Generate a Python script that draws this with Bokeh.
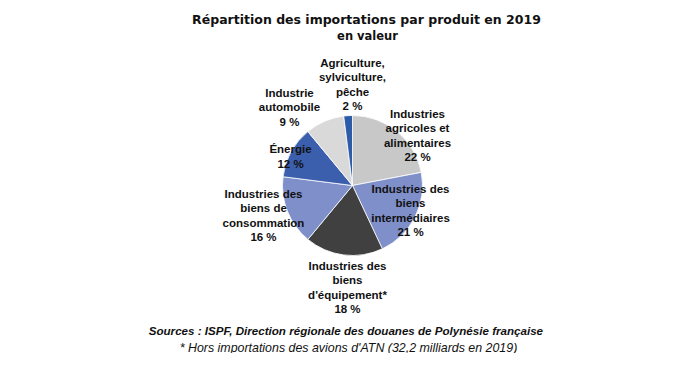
import math
from bokeh.plotting import figure
from bokeh.models import ColumnDataSource
from bokeh.core.properties import value
from bokeh.embed import file_html
from bokeh.resources import INLINE

# ---- data ----
names = [
    "Industries\nagricoles et\nalimentaires",
    "Industries des\nbiens\nintermédiaires",
    "Industries des\nbiens\nd'équipement*",
    "Industries des\nbiens de\nconsommation",
    "Énergie",
    "Industrie\nautomobile",
    "Agriculture,\nsylviculture,\npêche",
]
values = [22, 21, 18, 16, 12, 9, 2]
colors = ["#c8c8c8", "#7f8fca", "#404040", "#7f8fca", "#3b5ead", "#d9d9d9", "#2e5ba8"]
title_text = "Répartition des importations par produit en 2019"
subtitle_text = "en valeur"
source_text = "Sources : ISPF, Direction régionale des douanes de  Polynésie française"
note_text = "* Hors importations des avions d'ATN (32,2 milliards en 2019)"

W, H = 662, 353
FONT = "Liberation Sans"

# pixel layout (top-left origin) -> data
def Y(py):
    return H - py

cx, cy, r = 352, Y(185), 70

total = sum(values)
starts, ends = [], []
cum = 0.0
for v in values:
    a0 = math.pi / 2 - 2 * math.pi * cum / total
    cum += v
    a1 = math.pi / 2 - 2 * math.pi * cum / total
    starts.append(a1)
    ends.append(a0)

src = ColumnDataSource(dict(start=starts, end=ends, color=colors))

p = figure(width=W, height=H, x_range=(0, W), y_range=(0, H),
           output_backend="svg", toolbar_location=None, min_border=0)
p.axis.visible = False
p.grid.visible = False
p.outline_line_color = None
p.background_fill_color = "white"

p.wedge(x=cx, y=cy, radius=r, radius_units="screen", start_angle="start",
        end_angle="end", direction="anticlock", fill_color="color",
        line_color="white", line_width=0.8, source=src)

# label positions (pixel coords, centre of block)
label_pos = [(417, 135), (410, 210), (347, 287), (263, 215), (290, 156), (289, 107), (352, 84)]
lx = [pp[0] for pp in label_pos]
ly = [Y(pp[1]) for pp in label_pos]
ltxt = [f"{n}\n{v} %" for n, v in zip(names, values)]
p.text(x=lx, y=ly, text=ltxt, text_font=value(FONT), text_font_style="bold",
       text_font_size="11.5px", text_align="center", text_baseline="middle",
       text_line_height=1.22, text_color="#111111")

p.text(x=[366], y=[Y(19)], text=[title_text], text_font=value("DejaVu Sans"),
       text_font_style="bold", text_font_size="12.5px", text_align="center",
       text_baseline="middle", text_color="#111111")
p.text(x=[367], y=[Y(35)], text=[subtitle_text], text_font=value("DejaVu Sans"),
       text_font_style="bold", text_font_size="11.5px", text_align="center",
       text_baseline="middle", text_color="#111111")
p.text(x=[347], y=[Y(330)], text=[source_text], text_font=value(FONT),
       text_font_style="bold italic", text_font_size="11.6px", text_align="center",
       text_baseline="middle", text_color="#111111")
p.text(x=[348], y=[Y(347)], text=[note_text], text_font=value(FONT),
       text_font_style="italic", text_font_size="12.4px", text_align="center",
       text_baseline="middle", text_color="#111111")

open("out.html", "w").write(file_html(p, INLINE))
